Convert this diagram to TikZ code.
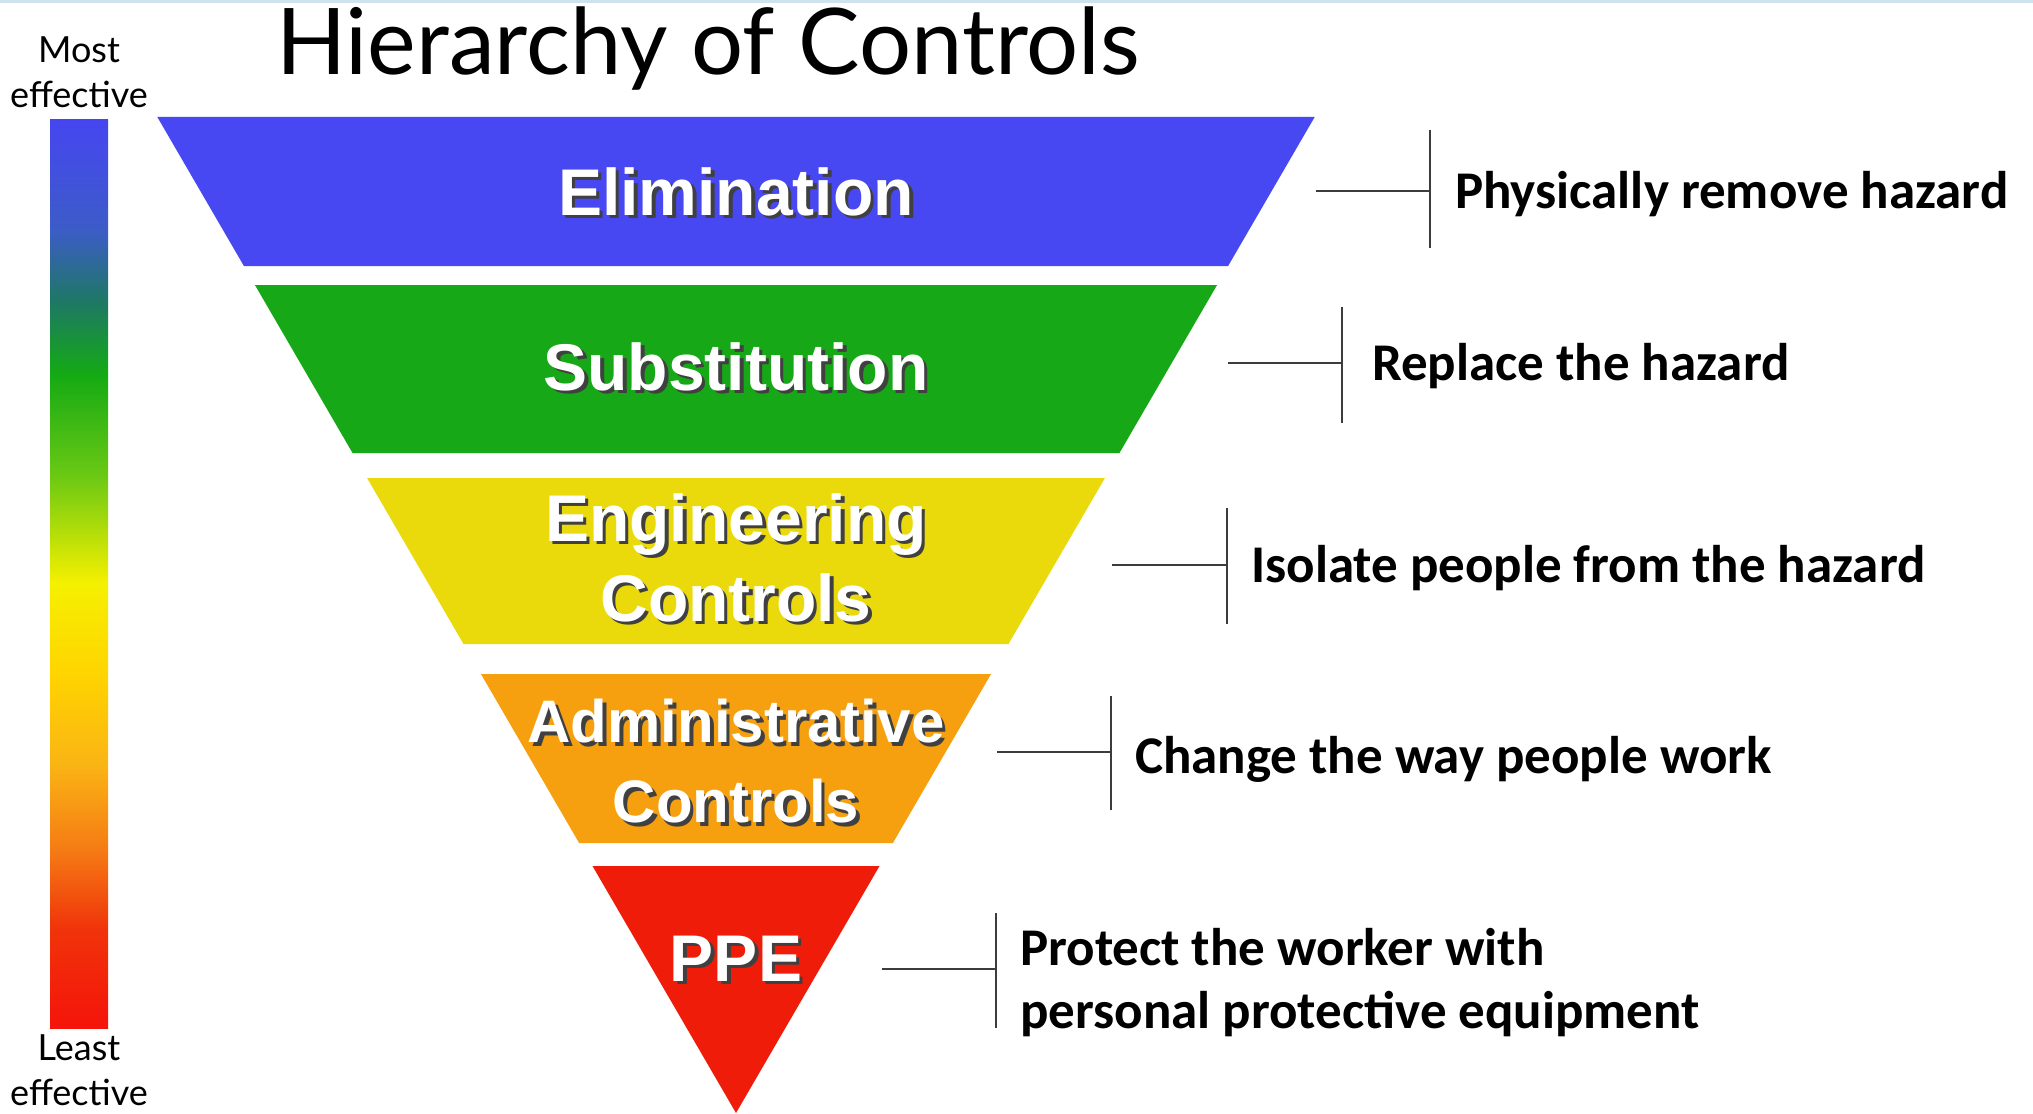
\documentclass[tikz,border=0pt]{standalone}
\usepackage{fontspec}
\setmainfont{Liberation Sans}
\newfontfamily\titlefont{Lato}
\newfontfamily\bandfont{Liberation Sans}
\newfontfamily\notefont{Carlito}
\definecolor{elimblue}{RGB}{72,72,242}
\definecolor{substgreen}{RGB}{22,168,22}
\definecolor{engyellow}{RGB}{234,218,12}
\definecolor{admorange}{RGB}{246,160,16}
\definecolor{ppered}{RGB}{240,28,10}
\definecolor{linegray}{RGB}{60,60,60}
\definecolor{topline}{RGB}{205,228,238}
\definecolor{gA}{RGB}{70,70,240}
\definecolor{gB}{RGB}{60,92,200}
\definecolor{gC}{RGB}{30,120,100}
\definecolor{gD}{RGB}{20,170,20}
\definecolor{gE}{RGB}{105,200,20}
\definecolor{gF}{RGB}{245,240,0}
\definecolor{gG}{RGB}{255,212,0}
\definecolor{gH}{RGB}{250,180,20}
\definecolor{gI}{RGB}{245,122,20}
\definecolor{gJ}{RGB}{240,52,10}
\definecolor{gK}{RGB}{245,20,10}
\pgfdeclareverticalshading{effbar}{100bp}{color(0bp)=(gK); color(25bp)=(gK); color(30.5bp)=(gJ); color(34.75bp)=(gI); color(39.5bp)=(gH); color(44.5bp)=(gG); color(49.5bp)=(gF); color(55.5bp)=(gE); color(61bp)=(gD); color(65bp)=(gC); color(69bp)=(gB); color(75bp)=(gA); color(100bp)=(gA)}
\newcommand\shadowed[1]{\leavevmode\rlap{\kern3.5pt\raisebox{-3.5pt}{\color{black!75}#1}}#1}
\newcommand\hocband[4]{%
  \coordinate (band#1tl) at ({736-0.581*(1113-#2)},#2);
  \coordinate (band#1tr) at ({736+0.581*(1113-#2)},#2);
  \coordinate (band#1br) at ({736+0.581*(1113-#3)},#3);
  \coordinate (band#1bl) at ({736-0.581*(1113-#3)},#3);
  \fill[#4] (band#1tl) -- (band#1tr) -- (band#1br) -- (band#1bl) -- cycle;}
\tikzset{
  bandlabel/.style={font=\bandfont\bfseries\fontsize{66}{80}\selectfont, text=white, align=center, inner sep=0pt},
  notelabel/.style={font=\notefont\bfseries\fontsize{53}{63}\selectfont, text=black, inner sep=0pt, anchor=base west},
  effect/.style={font=\titlefont\fontsize{36}{44}\selectfont, inner sep=0pt, anchor=base},
  conn/.style={draw=linegray, line width=1.5pt}
}
\begin{document}
\begin{tikzpicture}[x=1pt, y=-1pt]
\useasboundingbox (0,0) rectangle (2033,1113);
\fill[white] (0,0) rectangle (2033,1113);
\draw[topline, line width=3pt] (0,1.5) -- (2033,1.5);

% title
\node[anchor=base west, inner sep=0pt, font=\titlefont\fontsize{92}{100}\selectfont] (title) at (276,75) {Hierarchy of Controls};

% effectiveness bar
\shade[shading=effbar] (50,120) rectangle (108,1028);
\node[effect] (most1) at (79,63) {Most};
\node[effect] (most2) at (79,107) {effective};
\node[effect] (least1) at (79,1060) {Least};
\node[effect] (least2) at (79,1105) {effective};

% bands
\hocband{1}{117}{266}{elimblue}
\hocband{2}{285}{453}{substgreen}
\hocband{3}{478}{644}{engyellow}
\hocband{4}{674}{843}{admorange}
\coordinate (band5tl) at ({736-0.581*(1113-866)},866);
\coordinate (band5tr) at ({736+0.581*(1113-866)},866);
\coordinate (band5apex) at (736,1113);
\fill[ppered] (band5tl) -- (band5tr) -- (band5apex) -- cycle;

% band labels
\node[bandlabel, anchor=base] (elim) at (736,215) {\shadowed{Elimination}};
\node[bandlabel, anchor=base] (subst) at (736,390) {\shadowed{Substitution}};
\node[bandlabel] (eng) at (736,559.5) {\shadowed{Engineering}\\\shadowed{Controls}};
\node[bandlabel, font=\bandfont\bfseries\fontsize{60}{80}\selectfont] (adm) at (736,763) {\shadowed{Administrative}\\\shadowed{Controls}};
\node[bandlabel, anchor=base] (ppe) at (736,981) {\shadowed{PPE}};

% connectors
\coordinate (h1) at (1316,191); \coordinate (v1t) at (1430,130); \coordinate (v1b) at (1430,248);
\coordinate (h2) at (1228,363); \coordinate (v2t) at (1342,307); \coordinate (v2b) at (1342,423);
\coordinate (h3) at (1112,565); \coordinate (v3t) at (1227,508); \coordinate (v3b) at (1227,624);
\coordinate (h4) at (997,752);  \coordinate (v4t) at (1111,696); \coordinate (v4b) at (1111,810);
\coordinate (h5) at (882,969);  \coordinate (v5t) at (996,913);  \coordinate (v5b) at (996,1028);
\foreach \i in {1,...,5}{
  \draw[conn] (h\i) -- (h\i -| v\i t);
  \draw[conn] (v\i t) -- (v\i b);
}

% descriptions
\node[notelabel] (d1) at (1455,208) {Physically remove hazard};
\node[notelabel] (d2) at (1372,380) {Replace the hazard};
\node[notelabel] (d3) at (1251,582) {Isolate people from the hazard};
\node[notelabel] (d4) at (1135,773) {Change the way people work};
\node[notelabel, anchor=west, align=left] (d5) at (1020,983) {Protect the worker with\\personal protective equipment};
\end{tikzpicture}
\end{document}
